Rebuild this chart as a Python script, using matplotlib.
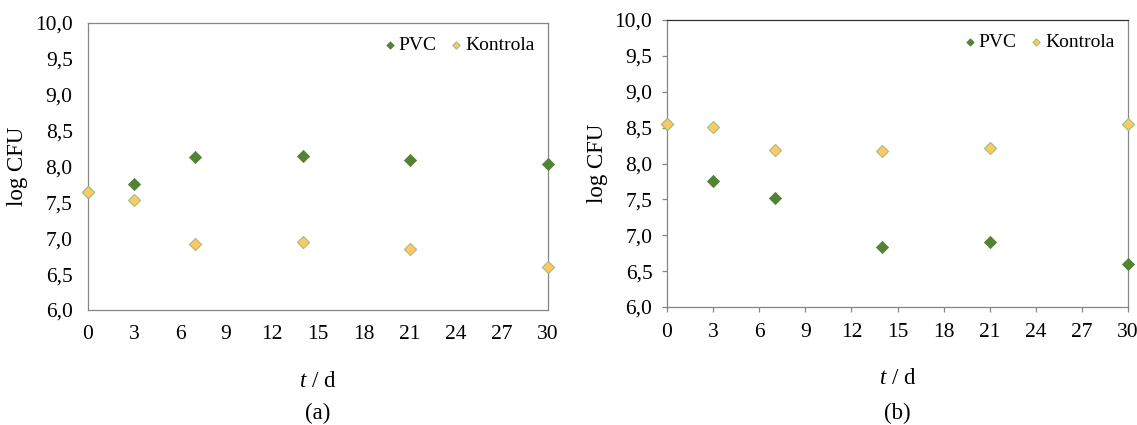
import matplotlib.pyplot as plt
from matplotlib.ticker import FuncFormatter, MultipleLocator

plt.rcParams['font.family'] = ['Liberation Serif', 'DejaVu Serif']
plt.rcParams['mathtext.fontset'] = 'custom'
plt.rcParams['mathtext.it'] = 'Liberation Serif:italic'
plt.rcParams['mathtext.rm'] = 'Liberation Serif'

# days of sampling
days = [0, 3, 7, 14, 21, 30]

# (a)
pvc_a = [7.65, 7.76, 8.13, 8.14, 8.09, 8.03]
kontrola_a = [7.65, 7.53, 6.92, 6.95, 6.85, 6.60]

# (b)
pvc_b = [8.55, 7.76, 7.52, 6.84, 6.90, 6.60]
kontrola_b = [8.55, 8.51, 8.19, 8.18, 8.22, 8.55]

green = '#548235'
yellow = '#FFC766'
edge_y = '#9CC37A'

W, H = 1137, 425
fig = plt.figure(figsize=(W / 100, H / 100), dpi=100)

def comma(v, pos):
    return ('%.1f' % v).replace('.', ',')

def make_axes(box, pvc, kontrola, letter, ticks):
    x0, y0, x1, y1 = box
    ax = fig.add_axes([x0 / W, 1 - y1 / H, (x1 - x0) / W, (y1 - y0) / H])
    ax.scatter(days, pvc, marker='D', s=38, color=green, edgecolor=green,
               linewidth=0.6, label='PVC', zorder=3, clip_on=False)
    ax.scatter(days, kontrola, marker='D', s=38, color=yellow, edgecolor=edge_y,
               linewidth=0.8, label='Kontrola', zorder=4, clip_on=False)
    ax.set_xlim(0, 30)
    ax.set_ylim(6, 10)
    ax.xaxis.set_major_locator(MultipleLocator(3))
    ax.yaxis.set_major_locator(MultipleLocator(0.5))
    ax.yaxis.set_major_formatter(FuncFormatter(comma))
    for s in ax.spines.values():
        s.set_color('#868686')
        s.set_linewidth(0.9)
    ax.tick_params(labelsize=15.5)
    if ticks:
        ax.spines['top'].set_color('#303030')
        ax.tick_params(length=3.5, width=0.9, color='#868686', direction='out')
        ax.tick_params(axis='y', pad=7)
        ax.tick_params(axis='x', pad=8)
    else:
        ax.tick_params(length=0)
        ax.tick_params(axis='y', pad=11)
        ax.tick_params(axis='x', pad=11)
    ax.set_ylabel('log CFU', fontsize=16.5, labelpad=5)
    ax.set_xlabel('$t$ / d', fontsize=16.5, labelpad=19)
    ax.legend(loc='upper right', ncol=2, frameon=False, fontsize=14,
              handlelength=0.6, handletextpad=0.15, columnspacing=0.7,
              borderaxespad=0.3, scatterpoints=1, markerscale=0.6)
    cx = (x0 + x1) / 2 / W
    fig.text(cx, 1 - 413 / H, letter, ha='center', va='center', fontsize=16.5)
    return ax

make_axes((88, 23, 548, 310), pvc_a, kontrola_a, '(a)', False)
make_axes((667, 20, 1128, 307), pvc_b, kontrola_b, '(b)', True)

plt.savefig('out.png', dpi=100)
plt.close(fig)
